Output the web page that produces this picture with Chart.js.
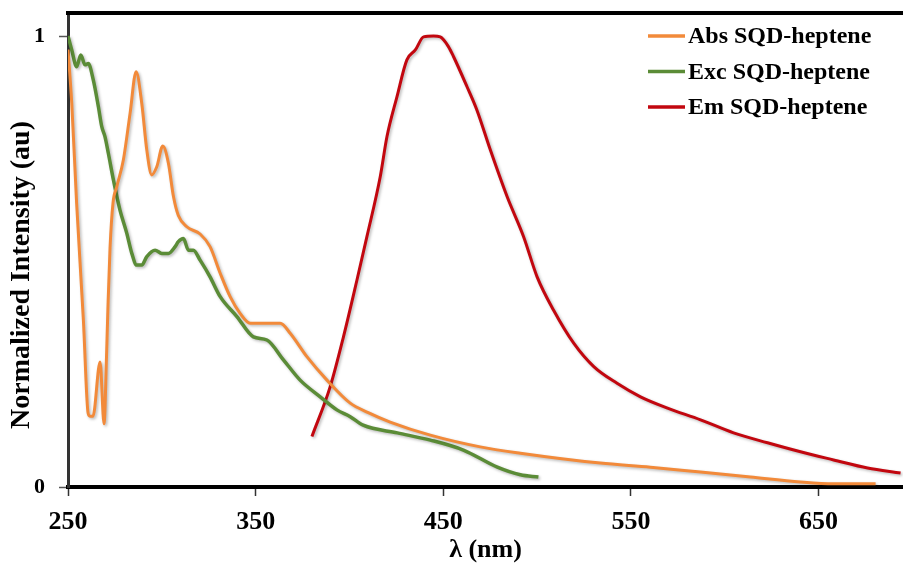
<!DOCTYPE html>
<html>
<head>
<meta charset="utf-8">
<script src="https://cdn.jsdelivr.net/npm/chart.js@4.4.1/dist/chart.umd.min.js"></script>
<style>
  html, body { margin: 0; padding: 0; background: #fff; }
  #wrap { width: 903px; height: 566px; }
</style>
</head>
<body>
<div id="wrap"><canvas id="chart" width="903" height="566"></canvas></div>
<script>
// Spectra (wavelength in nm, normalized intensity)
const absWl = [250, 252, 254.6, 258.2, 260.7, 261.7, 263.3, 267.1, 269.2, 270.6, 271.3, 272.4, 274, 276, 279.5, 283.1,
  286.3, 289.3, 292, 294.6, 297.3, 300.5, 303.5, 306.2, 308.8, 313.3, 320.4, 325.7, 331.1, 336.4, 341.7, 347.1, 363.1,
  368.4, 377.3, 388, 400.4, 410, 421.7, 443.1, 469.7, 491.1, 533.7, 560.4, 587.1, 613.7, 640.4, 658, 680.4];
const absVal = [0.97, 0.851, 0.629, 0.37, 0.164, 0.157, 0.157, 0.277, 0.14, 0.3, 0.4, 0.53, 0.63, 0.666, 0.725, 0.829,
  0.921, 0.851, 0.747, 0.692, 0.71, 0.756, 0.718, 0.644, 0.602, 0.577, 0.561, 0.533, 0.474, 0.422, 0.385, 0.363, 0.363,
  0.341, 0.289, 0.237, 0.186, 0.165, 0.144, 0.115, 0.089, 0.075, 0.053, 0.044, 0.033, 0.022, 0.011, 0.007, 0.007];

const excWl = [250, 252, 254.6, 256.8, 259.1, 260.8, 263.5, 266.2, 268, 269.7, 271.5, 274.2, 277.7, 281.3, 284, 286.6,
  289.3, 292, 296.4, 300, 303.5, 307.1, 308.8, 311.5, 314.2, 316.8, 320.4, 325.7, 331.1, 340, 348.8, 356, 364.8, 373.7,
  384.4, 393.3, 400.4, 407.3, 425.5, 443.1, 460.7, 478.8, 491.1, 500.7];
const excVal = [1.0, 0.969, 0.932, 0.958, 0.936, 0.939, 0.902, 0.843, 0.799, 0.777, 0.74, 0.681, 0.614, 0.563, 0.518, 0.492,
  0.492, 0.511, 0.525, 0.518, 0.518, 0.533, 0.544, 0.551, 0.525, 0.525, 0.503, 0.466, 0.422, 0.378, 0.333, 0.326, 0.282, 0.237,
  0.2, 0.171, 0.156, 0.137, 0.12, 0.104, 0.082, 0.044, 0.027, 0.022];

const emWl = [380, 389.7, 396.8, 404, 409.3, 416.4, 420, 425.3, 430.6, 435.1, 439.5, 444.8, 448.4, 452.8, 455.5, 462.6,
  467.9, 475.1, 484, 492.8, 500, 508.8, 519.5, 530.2, 542.6, 555.1, 569.5, 587.1, 604.7, 622.8, 640.4, 658, 676.1, 693.7];
const emVal = [0.112, 0.222, 0.333, 0.459, 0.555, 0.688, 0.777, 0.865, 0.947, 0.969, 0.998, 1.0, 0.998, 0.976, 0.954, 0.888,
  0.836, 0.747, 0.644, 0.555, 0.466, 0.392, 0.319, 0.267, 0.23, 0.2, 0.175, 0.149, 0.12, 0.098, 0.078, 0.06, 0.042, 0.031];

const seriesLabels = ['Abs SQD-heptene', 'Exc SQD-heptene', 'Em SQD-heptene'];
const seriesColors = ['#f28a3a', '#5b8c37', '#c2070f'];
const xTicks = [250, 350, 450, 550, 650];
const yTicks = [0, 1];
const yTitle = 'Normalized Intensity (au)';
const xTitle = 'λ (nm)';

const serif = "'Liberation Serif', 'Times New Roman', serif";

const points = (xs, ys) => xs.map((x, i) => ({ x, y: ys[i] }));

// soft drop shadow behind the curves, like the office-style original
const lineShadow = {
  id: 'lineShadow',
  beforeDatasetsDraw(chart) {
    const ctx = chart.ctx;
    ctx.save();
    ctx.shadowColor = 'rgba(0,0,0,0.28)';
    ctx.shadowBlur = 3;
    ctx.shadowOffsetX = 1.5;
    ctx.shadowOffsetY = 1.5;
  },
  afterDatasetsDraw(chart) {
    chart.ctx.restore();
  }
};

const frameAndText = {
  id: 'frameAndText',
  afterDraw(chart) {
    const { ctx, chartArea: a } = chart;
    ctx.save();
    // top frame line
    ctx.strokeStyle = '#000';
    ctx.lineWidth = 4;
    ctx.beginPath();
    ctx.moveTo(a.left - 2, a.top);
    ctx.lineTo(a.right, a.top);
    ctx.stroke();

    // y axis title
    ctx.fillStyle = '#000';
    ctx.font = `bold 28px ${serif}`;
    ctx.textAlign = 'center';
    ctx.textBaseline = 'middle';
    ctx.translate(22, 275);
    ctx.rotate(-Math.PI / 2);
    ctx.fillText(yTitle, 0, 0);
    ctx.restore();

    // legend in the upper right corner
    ctx.save();
    ctx.font = `bold 24px ${serif}`;
    ctx.textBaseline = 'middle';
    ctx.textAlign = 'left';
    chart.data.datasets.forEach((ds, i) => {
      const y = a.top + 23 + i * 35.5;
      const x0 = a.right - 255;
      ctx.strokeStyle = ds.borderColor;
      ctx.lineWidth = 3.5;
      ctx.beginPath();
      ctx.moveTo(x0, y);
      ctx.lineTo(x0 + 37, y);
      ctx.stroke();
      ctx.fillStyle = '#000';
      ctx.fillText(ds.label, x0 + 40, y + 1);
    });
    ctx.restore();
  }
};

new Chart(document.getElementById('chart'), {
  type: 'line',
  data: {
    datasets: [
      { label: seriesLabels[0], data: points(absWl, absVal), borderColor: seriesColors[0], borderWidth: 3 },
      { label: seriesLabels[1], data: points(excWl, excVal), borderColor: seriesColors[1], borderWidth: 3.5 },
      { label: seriesLabels[2], data: points(emWl, emVal), borderColor: seriesColors[2], borderWidth: 3 }
    ]
  },
  options: {
    responsive: false,
    animation: false,
    layout: { padding: { top: 13, right: 0, left: 0, bottom: 0 } },
    elements: {
      point: { radius: 0 },
      line: { cubicInterpolationMode: 'monotone', fill: false }
    },
    plugins: {
      legend: { display: false },
      tooltip: { enabled: false }
    },
    scales: {
      x: {
        type: 'linear',
        min: 250,
        max: 695,
        afterBuildTicks: (s) => { s.ticks = xTicks.map((v) => ({ value: v })); },
        afterFit: (s) => { s.height = 79; s.paddingRight = 0; },
        ticks: {
          color: '#000',
          font: { family: serif, size: 26, weight: 'bold' },
          padding: 11,
          maxRotation: 0,
          autoSkip: false
        },
        grid: { drawOnChartArea: false, drawTicks: true, tickLength: 9, tickWidth: 1.5, tickColor: '#333' },
        border: { display: true, color: '#000', width: 4 },
        title: {
          display: true,
          text: xTitle,
          color: '#000',
          font: { family: serif, size: 26, weight: 'bold' },
          padding: { top: 2, bottom: 0 }
        }
      },
      y: {
        min: 0,
        max: 1.051,
        afterBuildTicks: (s) => { s.ticks = yTicks.map((v) => ({ value: v })); },
        afterFit: (s) => { s.width = 68; s.paddingTop = 0; s.paddingBottom = 0; },
        ticks: {
          color: '#000',
          font: { family: serif, size: 22, weight: 'bold' },
          padding: 14
        },
        grid: { drawOnChartArea: false, drawTicks: true, tickLength: 9, tickWidth: 1.5, tickColor: '#555' },
        border: { display: true, color: '#333', width: 3 }
      }
    }
  },
  plugins: [lineShadow, frameAndText]
});
</script>
</body>
</html>
